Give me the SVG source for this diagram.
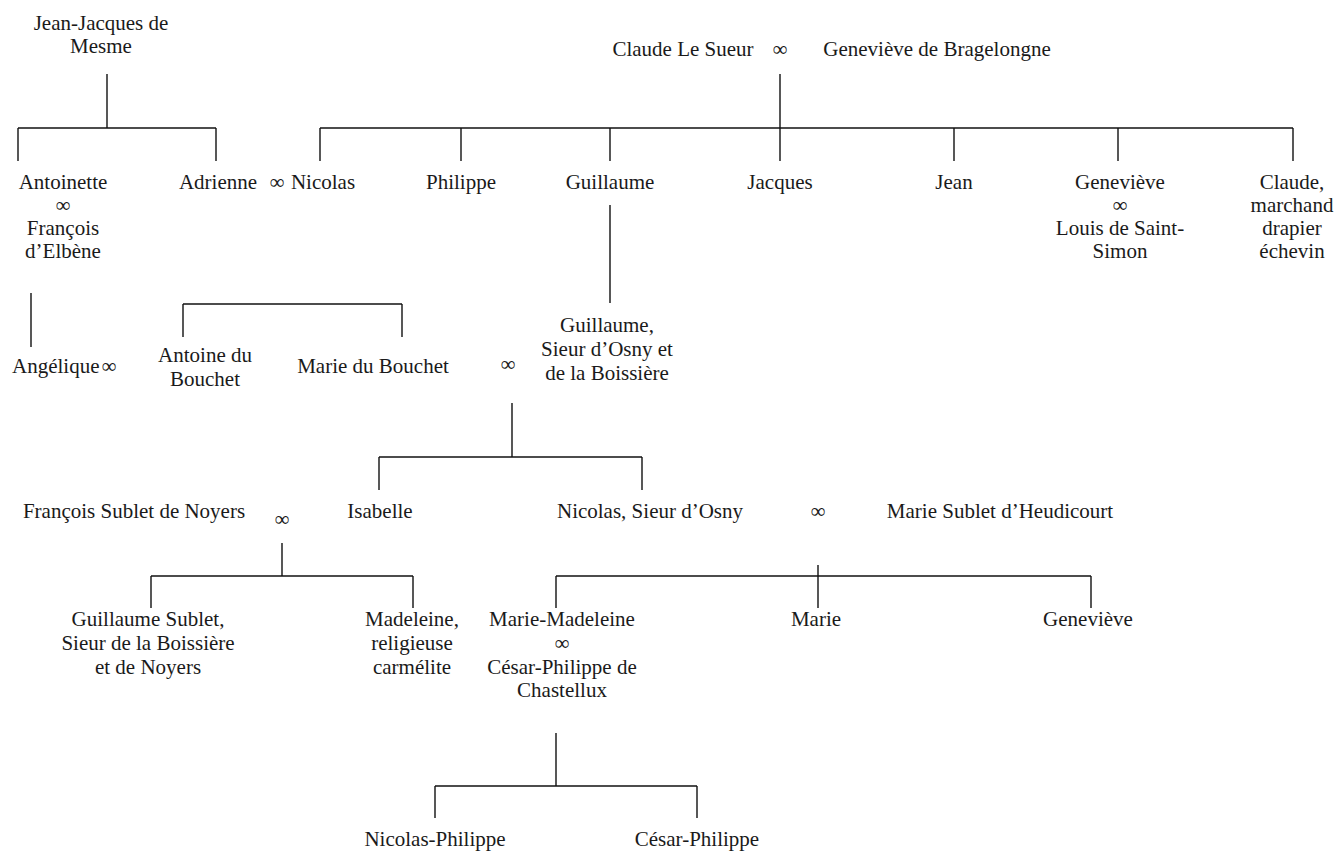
<svg xmlns="http://www.w3.org/2000/svg" width="1340" height="852" viewBox="0 0 1340 852">
<style>
text{font-family:"Liberation Serif","Times New Roman",serif;font-size:21px;fill:#1a1a1a;text-anchor:middle}
.s{text-anchor:start}
.c line{stroke:#111;stroke-width:1.4}
</style>
<rect width="1340" height="852" fill="#fff"/>
<g class="c" id="connectors">
<line x1="107" y1="74" x2="107" y2="128"/>
<line x1="18" y1="128" x2="216" y2="128"/>
<line x1="18" y1="128" x2="18" y2="161"/>
<line x1="216" y1="128" x2="216" y2="161"/>
<line x1="780" y1="74" x2="780" y2="128"/>
<line x1="320" y1="128" x2="1293" y2="128"/>
<line x1="320" y1="128" x2="320" y2="161"/>
<line x1="461" y1="128" x2="461" y2="161"/>
<line x1="610" y1="128" x2="610" y2="161"/>
<line x1="780" y1="128" x2="780" y2="161"/>
<line x1="954" y1="128" x2="954" y2="161"/>
<line x1="1118" y1="128" x2="1118" y2="161"/>
<line x1="1293" y1="128" x2="1293" y2="161"/>
<line x1="610" y1="205" x2="610" y2="303"/>
<line x1="31" y1="293" x2="31" y2="347"/>
<line x1="183" y1="304" x2="402" y2="304"/>
<line x1="183" y1="304" x2="183" y2="337"/>
<line x1="402" y1="304" x2="402" y2="337"/>
<line x1="512" y1="403" x2="512" y2="457"/>
<line x1="379" y1="457" x2="642" y2="457"/>
<line x1="379" y1="457" x2="379" y2="490"/>
<line x1="642" y1="457" x2="642" y2="490"/>
<line x1="282" y1="543" x2="282" y2="576"/>
<line x1="151" y1="576" x2="413" y2="576"/>
<line x1="151" y1="576" x2="151" y2="608"/>
<line x1="413" y1="576" x2="413" y2="608"/>
<line x1="818" y1="565" x2="818" y2="608"/>
<line x1="556" y1="576" x2="1091" y2="576"/>
<line x1="556" y1="576" x2="556" y2="608"/>
<line x1="1091" y1="576" x2="1091" y2="608"/>
<line x1="556" y1="733" x2="556" y2="786"/>
<line x1="435" y1="786" x2="697" y2="786"/>
<line x1="435" y1="786" x2="435" y2="818"/>
<line x1="697" y1="786" x2="697" y2="818"/>
</g>
<g id="jean-jacques"><text x="101" y="30">Jean-Jacques de</text><text x="101" y="53">Mesme</text></g>
<g id="claude-genevieve"><text x="683" y="56">Claude Le Sueur</text><text x="780" y="56">∞</text><text x="937" y="56">Geneviève de Bragelongne</text></g>
<g id="antoinette"><text x="63" y="189">Antoinette</text><text x="63" y="212">∞</text><text x="63" y="235">François</text><text x="63" y="258">d’Elbène</text></g>
<g id="adrienne"><text x="218" y="189">Adrienne</text><text x="277" y="189">∞</text></g>
<g id="nicolas"><text x="323" y="189">Nicolas</text></g>
<g id="philippe"><text x="461" y="189">Philippe</text></g>
<g id="guillaume"><text x="610" y="189">Guillaume</text></g>
<g id="jacques"><text x="780" y="189">Jacques</text></g>
<g id="jean"><text x="954" y="189">Jean</text></g>
<g id="genevieve1"><text x="1120" y="189">Geneviève</text><text x="1120" y="212">∞</text><text x="1120" y="235">Louis de Saint-</text><text x="1120" y="258">Simon</text></g>
<g id="claude"><text x="1292" y="189">Claude,</text><text x="1292" y="212">marchand</text><text x="1292" y="235">drapier</text><text x="1292" y="258">échevin</text></g>
<g id="angelique"><text class="s" x="12" y="373">Angélique</text><text x="109" y="373">∞</text></g>
<g id="antoine"><text x="205" y="362">Antoine du</text><text x="205" y="386">Bouchet</text></g>
<g id="marie-bouchet"><text x="373" y="373">Marie du Bouchet</text><text x="508" y="371">∞</text></g>
<g id="guillaume2"><text x="607" y="332">Guillaume,</text><text x="607" y="356">Sieur d’Osny et</text><text x="607" y="380">de la Boissière</text></g>
<g id="francois-sublet"><text x="134" y="518">François Sublet de Noyers</text><text x="282" y="526">∞</text></g>
<g id="isabelle"><text x="380" y="518">Isabelle</text></g>
<g id="nicolas-osny"><text x="650" y="518">Nicolas, Sieur d’Osny</text><text x="818" y="518">∞</text></g>
<g id="marie-sublet"><text x="1000" y="518">Marie Sublet d’Heudicourt</text></g>
<g id="guillaume-sublet"><text x="148" y="626">Guillaume Sublet,</text><text x="148" y="650">Sieur de la Boissière</text><text x="148" y="674">et de Noyers</text></g>
<g id="madeleine"><text x="412" y="626">Madeleine,</text><text x="412" y="650">religieuse</text><text x="412" y="674">carmélite</text></g>
<g id="marie-madeleine"><text x="562" y="626">Marie-Madeleine</text><text x="562" y="650">∞</text><text x="562" y="674">César-Philippe de</text><text x="562" y="697">Chastellux</text></g>
<g id="marie"><text x="816" y="626">Marie</text></g>
<g id="genevieve2"><text x="1088" y="626">Geneviève</text></g>
<g id="nicolas-philippe"><text x="435" y="846">Nicolas-Philippe</text></g>
<g id="cesar-philippe"><text x="697" y="846">César-Philippe</text></g>
</svg>
